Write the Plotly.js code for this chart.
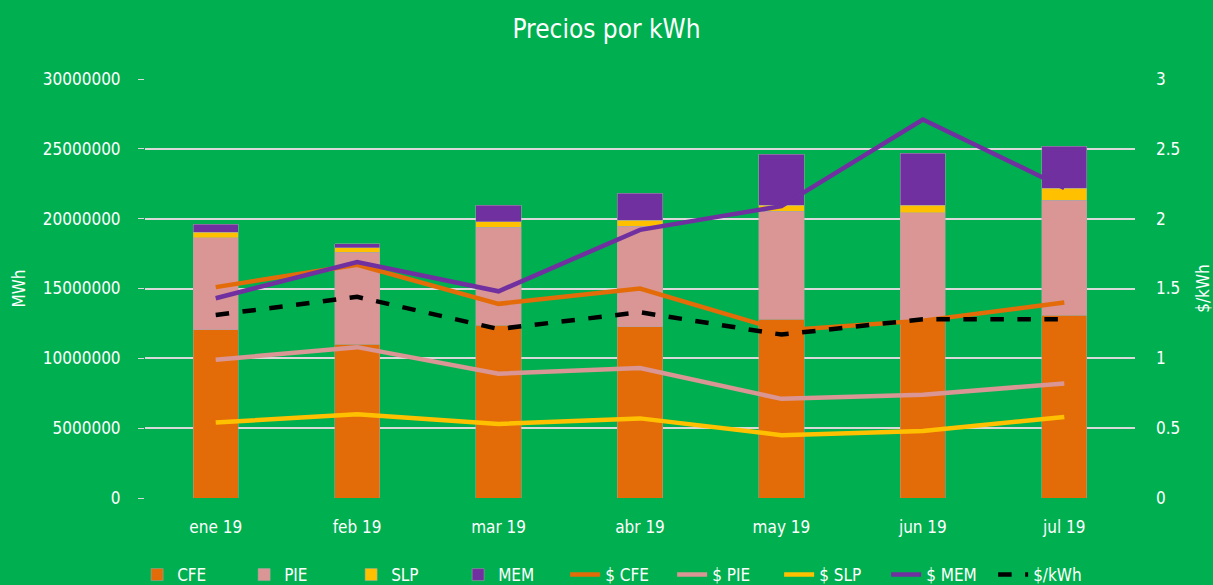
<!DOCTYPE html>
<html><head><meta charset="utf-8">
<script src="https://cdn.plot.ly/plotly-3.0.1.min.js"></script>
<style>html,body{margin:0;padding:0;background:#00B050;}#chart{width:1213px;height:585px;}</style>
</head><body><div id="chart"></div>
<script>
const months = ["ene 19","feb 19","mar 19","abr 19","may 19","jun 19","jul 19"];
const cfe = [12030000,11020000,12380000,12260000,12790000,12740000,13100000];
const pie = [6600000,6590000,7020000,7210000,7730000,7680000,8230000];
const slp = [410000,310000,380000,430000,450000,530000,840000];
const mem = [570000,280000,1190000,1910000,3650000,3750000,3010000];
const pCFE = [1.51,1.67,1.39,1.50,1.20,1.27,1.40];
const pPIE = [0.99,1.08,0.89,0.93,0.71,0.74,0.82];
const pSLP = [0.54,0.60,0.53,0.57,0.45,0.48,0.58];
const pMEM = [1.43,1.69,1.48,1.92,2.09,2.71,2.22];
const pKWh = [1.31,1.44,1.21,1.33,1.17,1.28,1.28];

const C = {cfe:'#E36C09', pie:'#D99694', slp:'#FFC000', mem:'#7030A0'};
const font = "'DejaVu Sans Condensed','Liberation Sans Narrow','Liberation Sans',sans-serif";
function bar(name, y, color){
  return {type:'bar', name, x:months, y, marker:{color, line:{color:'#a6a6a6', width:0.5}}, yaxis:'y', width:0.32};
}
function line(name, y, color, dash){
  return {type:'scatter', mode:'lines', name, x:months, y, yaxis:'y2',
    line:{color, width:4.5, dash:dash||'solid'}};
}
const data = [
  bar('CFE', cfe, C.cfe), bar('PIE', pie, C.pie), bar('SLP', slp, C.slp), bar('MEM', mem, C.mem),
  line('$ CFE', pCFE, C.cfe), line('$ PIE', pPIE, C.pie), line('$ SLP', pSLP, C.slp),
  line('$ MEM', pMEM, C.mem), line('$/kWh', pKWh, '#000000', 'dash')
];
const layout = {
  width:1213, height:585,
  paper_bgcolor:'#00B050', plot_bgcolor:'#00B050',
  font:{family:font, color:'#ffffff', size:16},
  title:{text:'Precios por kWh', x:0.5, xanchor:'center', xref:'container', y:0.95, yanchor:'middle', yref:'container', font:{size:26, color:'#ffffff', family:font}},
  margin:{l:145, r:78, t:79, b:87, autoexpand:false},
  barmode:'stack',
  showlegend:true,
  legend:{orientation:'h', xref:'container', yref:'container', x:0.51, xanchor:'center', y:0.017, yanchor:'middle',
    font:{size:17, color:'#ffffff'}, traceorder:'normal', entrywidth:62, entrywidthmode:'pixels', bgcolor:'rgba(0,0,0,0)'},
  xaxis:{type:'category', showgrid:false, zeroline:false, showline:false, ticks:'outside', ticklen:14, tickcolor:'rgba(0,0,0,0)', tickfont:{size:17, color:'#ffffff'}},
  yaxis:{range:[0,30000000], dtick:5000000, tickformat:'d', gridcolor:'#d9d9d9', gridwidth:2, zeroline:false,
    ticks:'outside', tickcolor:'#d9d9d9', ticklen:6, ticklabelstandoff:14, tickfont:{size:17, color:'#ffffff'},
    title:{text:'MWh', font:{size:17, color:'#ffffff'}, standoff:12}},
  yaxis2:{range:[0,3], dtick:0.5, overlaying:'y', side:'right', showgrid:false, zeroline:false,
    tickfont:{size:17, color:'#ffffff'}, ticks:'', ticklabelstandoff:20,
    title:{text:'$/kWh', font:{size:17, color:'#ffffff'}, standoff:20}}
};
Plotly.newPlot('chart', data, layout, {displayModeBar:false});
</script></body></html>
